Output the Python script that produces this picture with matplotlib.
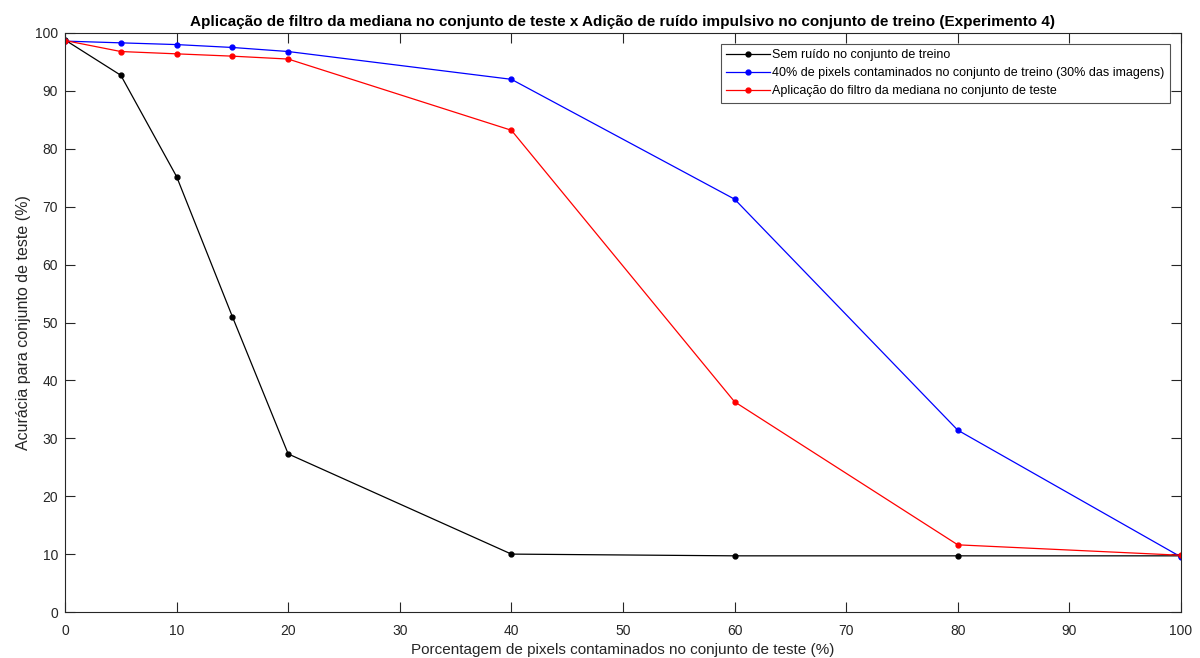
import matplotlib
matplotlib.use("Agg")
import matplotlib.pyplot as plt

plt.rcParams['font.family'] = ['Liberation Sans', 'DejaVu Sans']

# Percent of contaminated pixels in the test set
noise_pct = [0, 5, 10, 15, 20, 40, 60, 80, 100]

# Test-set accuracy (%) for each training setup
acc_clean_train = [98.8, 92.7, 75.2, 51.0, 27.3, 10.0, 9.7, 9.7, 9.7]
acc_noisy_train = [98.6, 98.3, 98.0, 97.5, 96.8, 92.0, 71.3, 31.4, 9.5]
acc_median_filter = [98.7, 96.8, 96.4, 96.0, 95.5, 83.2, 36.3, 11.6, 9.8]

labels = [
    "Sem ruído no conjunto de treino",
    "40% de pixels contaminados no conjunto de treino (30% das imagens)",
    "Aplicação do filtro da mediana no conjunto de teste",
]

xticks = [0, 10, 20, 30, 40, 50, 60, 70, 80, 90, 100]
yticks = [0, 10, 20, 30, 40, 50, 60, 70, 80, 90, 100]

axis_gray = "#262626"

fig = plt.figure(figsize=(12, 6.58), dpi=100)
ax = fig.add_axes([65 / 1200, 46 / 658, 1116 / 1200, 579 / 658])

style = dict(marker='o', markersize=3.5, linewidth=0.9)
ax.plot(noise_pct, acc_clean_train, color='black', label=labels[0], **style)
ax.plot(noise_pct, acc_noisy_train, color='blue', label=labels[1], **style)
ax.plot(noise_pct, acc_median_filter, color='red', label=labels[2], **style)

ax.set_xlim(0, 100)
ax.set_ylim(0, 100)
ax.set_xticks(xticks)
ax.set_yticks(yticks)
ax.tick_params(direction='in', length=7, width=0.8, top=True, right=True,
               colors=axis_gray, labelsize=10, labelcolor=axis_gray)
ax.tick_params(axis='x', pad=8.5)
ax.tick_params(axis='y', pad=5)
for s in ax.spines.values():
    s.set_color(axis_gray)
    s.set_linewidth(0.8)

ax.set_xlabel("Porcentagem de pixels contaminados no conjunto de teste (%)",
              fontsize=11, color=axis_gray, labelpad=4)
ax.set_ylabel("Acurácia para conjunto de teste (%)",
              fontsize=11.5, color=axis_gray, labelpad=3)
ax.set_title("Aplicação de filtro da mediana no conjunto de teste x Adição de ruído impulsivo no conjunto de treino (Experimento 4)",
             fontsize=11, fontweight='bold', color='black', pad=5)

leg = ax.legend(loc='upper right', bbox_to_anchor=(1 - 11 / 1116, 1 - 11 / 579),
                fontsize=9, frameon=True, fancybox=False, borderaxespad=0,
                handlelength=3.5, handletextpad=0.2, borderpad=0.42,
                labelspacing=0.48)
leg.get_frame().set_edgecolor(axis_gray)
leg.get_frame().set_linewidth(0.8)

fig.savefig("out.png", dpi=100)
